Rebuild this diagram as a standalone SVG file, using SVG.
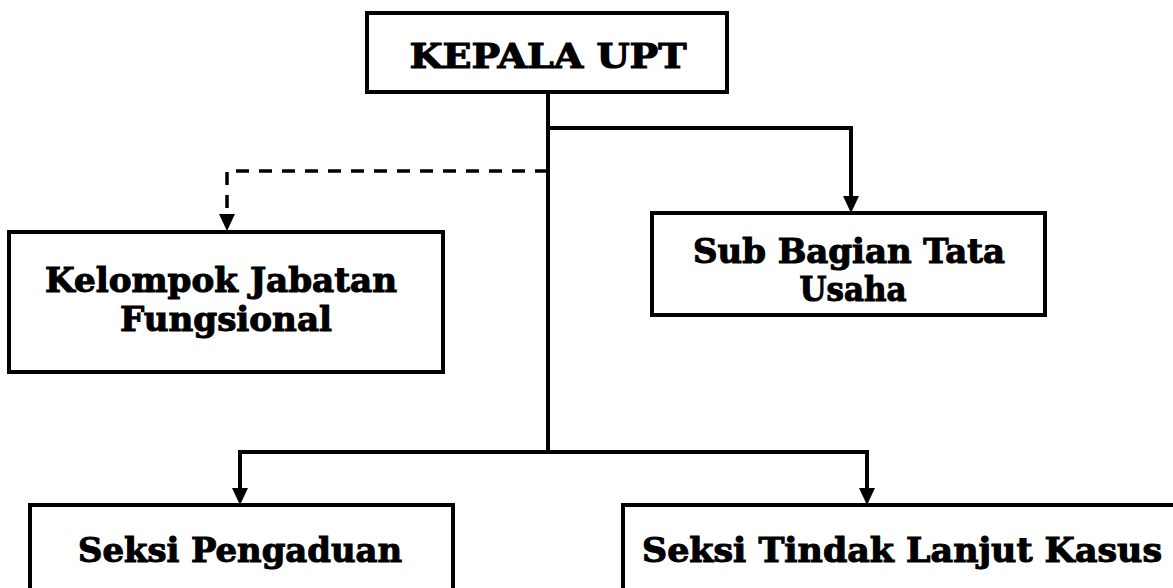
<svg xmlns="http://www.w3.org/2000/svg" width="1173" height="588" viewBox="0 0 1173 588">
<style>
.box{fill:#fff;stroke:#000;stroke-width:4}
.t{font-family:"DejaVu Serif","Liberation Serif",serif;font-weight:bold;font-size:34px;fill:#000;stroke:#000;stroke-width:1.1;text-anchor:middle}
.ln{fill:none;stroke:#000;stroke-width:4}
.dash{fill:none;stroke:#000;stroke-width:3.5;stroke-dasharray:13 10}
.ah{fill:#000}
</style>
<rect width="1173" height="588" fill="#fff"/>
<g id="connectors">
<line class="ln" x1="548" y1="92" x2="548" y2="452"/>
<polyline class="ln" points="548,128 851,128 851,198"/>
<path class="ah" d="M843,196 L859,196 L851,213 Z"/>
<polyline class="dash" points="548,171 227,171 227,214"/>
<path class="ah" d="M219,214 L235,214 L227,231 Z"/>
<polyline class="ln" points="240,490 240,452 867,452 867,490"/>
<path class="ah" d="M232,488 L248,488 L240,505 Z"/>
<path class="ah" d="M859,488 L875,488 L867,505 Z"/>
</g>
<g id="kepala">
<rect class="box" x="367" y="13" width="360" height="79"/>
<text class="t" x="548" y="68" textLength="277" lengthAdjust="spacingAndGlyphs">KEPALA UPT</text>
</g>
<g id="kelompok">
<rect class="box" x="9" y="232" width="434" height="140"/>
<text class="t" x="221" y="292" textLength="352" lengthAdjust="spacingAndGlyphs">Kelompok Jabatan</text>
<text class="t" x="226" y="331" textLength="212" lengthAdjust="spacingAndGlyphs">Fungsional</text>
</g>
<g id="subbagian">
<rect class="box" x="652" y="213" width="393" height="102"/>
<text class="t" x="849" y="263" textLength="312" lengthAdjust="spacingAndGlyphs">Sub Bagian Tata</text>
<text class="t" x="853" y="301" textLength="107" lengthAdjust="spacingAndGlyphs">Usaha</text>
</g>
<g id="pengaduan">
<rect class="box" x="30" y="505" width="423" height="100"/>
<text class="t" x="240" y="562" textLength="324" lengthAdjust="spacingAndGlyphs">Seksi Pengaduan</text>
</g>
<g id="tindaklanjut">
<rect class="box" x="623" y="505" width="600" height="100"/>
<text class="t" x="902" y="562" textLength="520" lengthAdjust="spacingAndGlyphs">Seksi Tindak Lanjut Kasus</text>
</g>
</svg>
